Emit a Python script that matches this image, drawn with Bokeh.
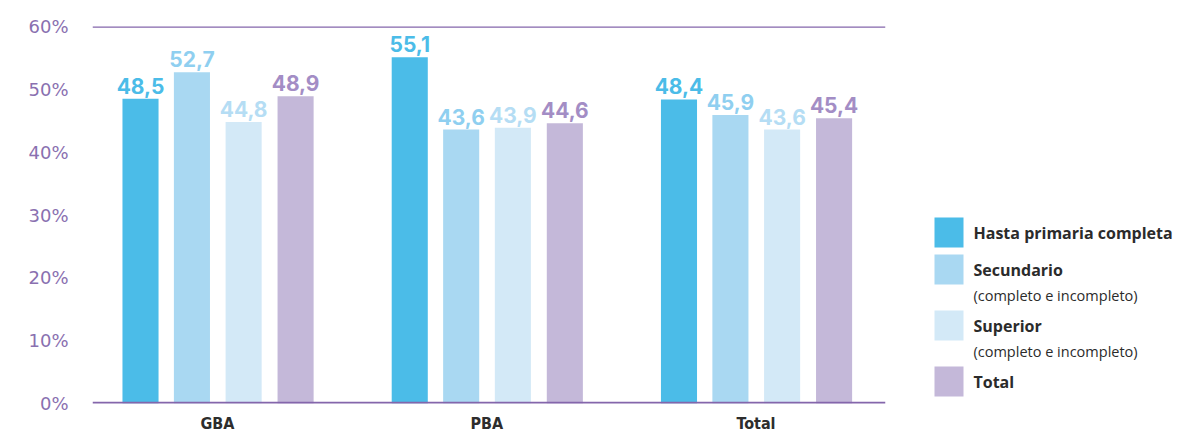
from bokeh.plotting import figure
from bokeh.models import ColumnDataSource, Range1d, FixedTicker, Span
from bokeh.layouts import row
from bokeh.transform import dodge
from bokeh.core.properties import value
from bokeh.embed import file_html
from bokeh.resources import INLINE

# ---- data ----
categories = ["GBA", "PBA", "Total"]
hasta_primaria = [48.5, 55.1, 48.4]
secundario = [52.7, 43.6, 45.9]
superior = [44.8, 43.9, 43.6]
total = [48.9, 44.6, 45.4]
y_ticks = [0, 10, 20, 30, 40, 50, 60]
y_tick_labels = ["0%", "10%", "20%", "30%", "40%", "50%", "60%"]

series = [
    ("Hasta primaria completa", None, hasta_primaria, "#4bbce8", "#4bbce8"),
    ("Secundario", "(completo e incompleto)", secundario, "#a9d8f2", "#8fcff0"),
    ("Superior", "(completo e incompleto)", superior, "#d3e9f7", "#b5ddf4"),
    ("Total", None, total, "#c4b8d9", "#a38dc5"),
]
offsets = [-0.286, -0.095, 0.097, 0.29]
bar_w = 0.134
purple = "#8466ab"

xs = [i + 1 for i in range(len(categories))]

p = figure(width=900, height=435, output_backend="svg", toolbar_location=None,
           x_range=Range1d(0.5357, 3.481), y_range=Range1d(0, 60),
           min_border_left=92, min_border_right=15, min_border_top=26, min_border_bottom=32)
p.outline_line_color = None
p.grid.grid_line_color = None
p.background_fill_color = "white"
p.border_fill_color = "white"

for (name, sub, vals, col, lcol), off in zip(series, offsets):
    src = ColumnDataSource(dict(x=xs, y=vals, lab=[f"{v:.1f}".replace(".", ",") for v in vals]))
    p.vbar(x=dodge("x", off), top="y", bottom=0, width=bar_w, source=src,
           fill_color=col, line_color=None)
    p.text(x=dodge("x", off), y="y", text="lab", source=src, text_align="center",
           text_baseline="bottom", y_offset=-5, text_color=lcol,
           text_font=value("Inter"), text_font_style="bold", text_font_size="21px")

p.add_layout(Span(location=60, dimension="width", line_color=purple, line_width=2.5))
p.add_layout(Span(location=0, dimension="width", line_color=purple, line_width=3.5))

p.xaxis.ticker = FixedTicker(ticks=xs)
p.xaxis.major_label_overrides = {x: c for x, c in zip(xs, categories)}
p.xaxis.axis_line_color = None
p.xaxis.major_tick_line_color = None
p.xaxis.minor_tick_line_color = None
p.xaxis.major_tick_in = 0
p.xaxis.major_tick_out = 0
p.xaxis.minor_tick_in = 0
p.xaxis.minor_tick_out = 0
p.xaxis.major_label_standoff = 10
p.xaxis.major_label_text_font = "DejaVu Sans Condensed"
p.xaxis.major_label_text_font_style = "bold"
p.xaxis.major_label_text_font_size = "16px"
p.xaxis.major_label_text_color = "#2d2d2d"

p.yaxis.ticker = FixedTicker(ticks=y_ticks)
p.yaxis.major_label_overrides = {t: l for t, l in zip(y_ticks, y_tick_labels)}
p.yaxis.axis_line_color = None
p.yaxis.major_tick_line_color = None
p.yaxis.minor_tick_line_color = None
p.yaxis.major_label_standoff = 18
p.yaxis.major_label_text_font = "DejaVu Sans"
p.yaxis.major_label_text_font_size = "18px"
p.yaxis.major_label_text_color = "#8a70b0"

# ---- legend panel (frame is aligned with the main frame: y 26..403) ----
lg = figure(width=279, height=435, output_backend="svg", toolbar_location=None,
            x_range=Range1d(0, 279), y_range=Range1d(403, 26),
            x_axis_location=None, y_axis_location=None,
            min_border_left=0, min_border_right=0, min_border_top=26, min_border_bottom=32,
            outline_line_color=None)
lg.grid.grid_line_color = None
sq_y = [232, 269, 325, 381]
for (name, sub, vals, col, lcol), yy in zip(series, sq_y):
    lg.rect(x=[48.5], y=[yy], width=29, height=30, fill_color=col, line_color=None)
    lg.text(x=[73], y=[yy], text=[name], text_baseline="middle", text_color="#2b2b2b",
            text_font=value("Open Sans"), text_font_style="bold", text_font_size="16px")
    if sub:
        lg.text(x=[73], y=[yy + 26], text=[sub], text_baseline="middle", text_color="#2b2b2b",
                text_font=value("Open Sans"), text_font_size="14.5px")

layout = row(p, lg)
open("out.html", "w").write(file_html(layout, INLINE))
